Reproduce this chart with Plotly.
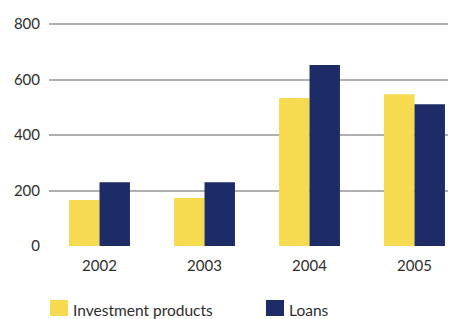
import plotly.graph_objects as go

years = ["2002", "2003", "2004", "2005"]
investment_products = [166, 173, 533, 547]
loans = [230, 230, 652, 511]
y_ticks = [0, 200, 400, 600, 800]
series_names = ["Investment products", "Loans"]
colors = ["#F6DA50", "#1D2C66"]

xpos = list(range(len(years)))

# page body has an 8px default margin: figure is offset by (8, 8)
OFF = 8
PW, PH = 407, 225
L, T = 49 - OFF, 246 - PH - OFF
W, H = 456 - OFF, 319 - OFF
YTOP = PH / (222 / 800)  # keeps 800 at y=24 while leaving room for the top gridline

fig = go.Figure()
fig.add_trace(go.Bar(x=xpos, y=investment_products, name=series_names[0],
                     marker=dict(color=colors[0], line=dict(width=0)), showlegend=False))
fig.add_trace(go.Bar(x=xpos, y=loans, name=series_names[1],
                     marker=dict(color=colors[1], line=dict(width=0)), showlegend=False))

font_family = "Lato, 'Open Sans', sans-serif"
txt_col = "#2e2e2e"

fig.update_layout(
    width=W, height=H,
    margin=dict(l=L, r=W - L - PW, t=T, b=H - T - PH, pad=0),
    paper_bgcolor="white", plot_bgcolor="white",
    barmode="group", bargap=0.42, bargroupgap=0,
    font=dict(family=font_family, size=15, color=txt_col),
    xaxis=dict(range=[-0.481, 3.395], tickvals=xpos, ticktext=years,
               showgrid=False, zeroline=False, showline=False, ticks="",
               ticklabelstandoff=9, tickfont=dict(size=15, color=txt_col)),
    yaxis=dict(range=[0, YTOP], tickvals=y_ticks, showgrid=True,
               gridcolor="#b0b0b0", gridwidth=1.5, zeroline=False,
               showline=False, ticks="", ticklabelstandoff=8,
               tickfont=dict(size=15, color=txt_col)),
    showlegend=False,
)

# Legend drawn as shapes + text (paper coords relative to plot area)
def px_x(x):
    return (x - 49) / PW

def px_y(y):
    return (246 - y) / PH

legend_items = [(50, 68, series_names[0], colors[0]), (266, 284, series_names[1], colors[1])]
for x0, x1, label, col in legend_items:
    fig.add_shape(type="rect", xref="paper", yref="paper",
                  x0=px_x(x0), x1=px_x(x1), y0=px_y(316), y1=px_y(300),
                  line=dict(width=0), fillcolor=col)
    fig.add_annotation(xref="paper", yref="paper",
                       x=px_x(x1 + 4), y=px_y(310),
                       xanchor="left", yanchor="middle", showarrow=False,
                       borderpad=0,
                       text=label, font=dict(size=15.5, color=txt_col, family=font_family))

fig.write_html("out.html")
